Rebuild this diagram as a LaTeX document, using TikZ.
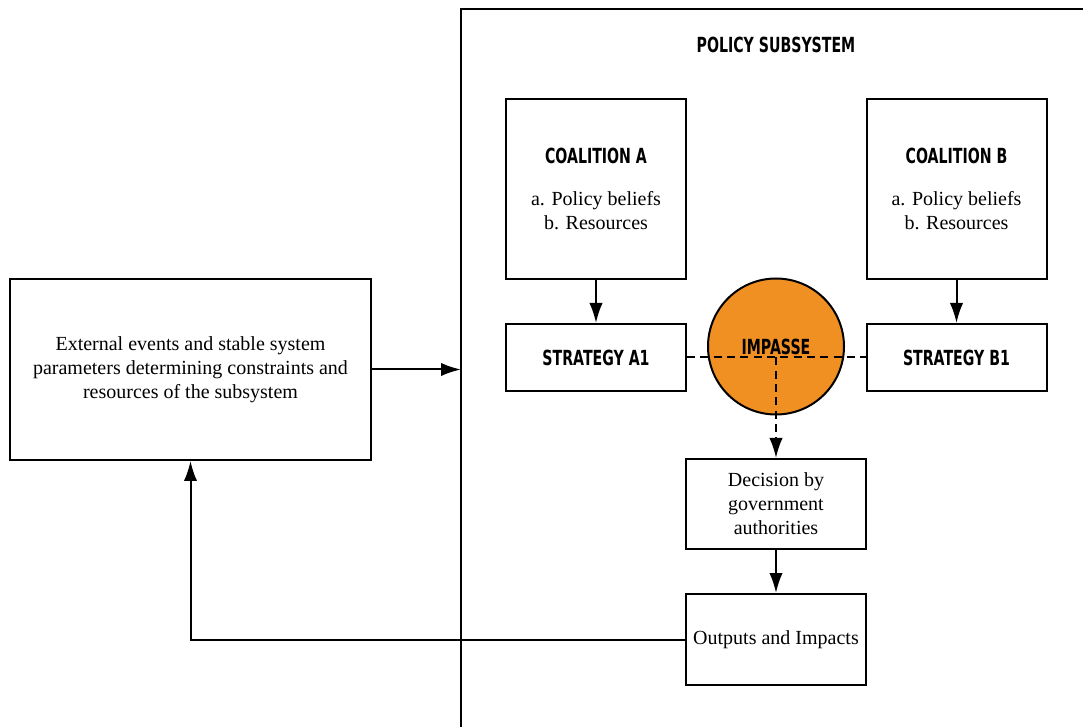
\documentclass[tikz,border=0pt]{standalone}
\usepackage{fontspec}
\setmainfont{Liberation Serif}
\newfontfamily\headfamily{DejaVu Sans}[FakeStretch=0.68]
\usepackage{tikz}
\usepackage{xcolor}
\usetikzlibrary{arrows.meta}
\definecolor{impasseorange}{RGB}{240,144,34}
\newcommand{\heading}[1]{{\headfamily\bfseries\fontsize{15.6}{18}\selectfont #1}}

\begin{document}
\begin{tikzpicture}[x=0.75pt, y=-0.75pt, line width=1.5pt,
  every node/.style={font=\fontsize{15}{18}\selectfont, align=center},
  box/.style={draw=black, fill=white, inner sep=2pt},
  arrow/.style={-{Latex[length=15pt, width=10pt]}},
  dashline/.style={dash pattern=on 6pt off 4pt}]
\useasboundingbox (0,0) rectangle (1083,727);
% Subsystem frame
\draw (1083,9) -- (461,9) -- (461,727);
\node (title) at (776,45) {\heading{POLICY SUBSYSTEM}};
\coordinate (subleft) at (461,369.5);
% Outside the subsystem
\node[box, minimum width=270.75pt, minimum height=135.75pt] (external) at (190.5,369.5)
  {External events and stable system\\ parameters determining constraints and\\ resources of the subsystem};
% Coalitions
\node[box, minimum width=135pt, minimum height=135pt] (coalA) at (596,189)
  {\heading{COALITION A}\\[13pt] a. Policy beliefs\\ b. Resources};
\node[box, minimum width=135pt, minimum height=135pt] (coalB) at (956.5,189)
  {\heading{COALITION B}\\[13pt] a. Policy beliefs\\ b. Resources};
\node[box, minimum width=135pt, minimum height=50.25pt] (stratA) at (596,357.5) {\heading{STRATEGY A1}};
\node[box, minimum width=135pt, minimum height=50.25pt] (stratB) at (956.5,357.5) {\heading{STRATEGY B1}};
\node[circle, draw=black, fill=impasseorange, minimum size=102pt, inner sep=0pt] (impasse) at (776,346.5) {\heading{IMPASSE}};
\coordinate (split) at (776,357.5);
% Decision and results
\node[box, minimum width=135pt, minimum height=67.5pt] (decision) at (776,504)
  {Decision by\\ government\\ authorities};
\node[box, minimum width=135pt, minimum height=68.25pt] (outputs) at (776,639.5) {Outputs and Impacts};
\draw[arrow] (external) -- (subleft);
\draw[arrow] (coalA) -- (stratA);
\draw[arrow] (coalB) -- (stratB);
\draw[dashline] (stratA) -- (stratB);
\draw[dashline, arrow] (split) -- (decision);
\draw[arrow] (decision) -- (outputs);
\draw[arrow] (outputs.west) -| (external.south);
\end{tikzpicture}
\end{document}
